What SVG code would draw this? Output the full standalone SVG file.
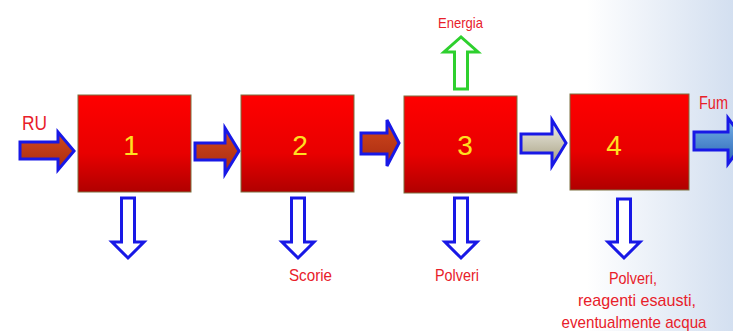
<svg xmlns="http://www.w3.org/2000/svg" width="733" height="331" viewBox="0 0 733 331">
<defs>
<linearGradient id="bg" x1="0" y1="0" x2="1" y2="0">
<stop offset="0" stop-color="#ffffff"/>
<stop offset="0.8" stop-color="#ffffff"/>
<stop offset="1" stop-color="#d3dff0"/>
</linearGradient>
<linearGradient id="boxg" x1="0" y1="0" x2="0" y2="1">
<stop offset="0" stop-color="#ff0000"/>
<stop offset="0.6" stop-color="#e80000"/>
<stop offset="1" stop-color="#b00000"/>
</linearGradient>
<linearGradient id="redarrow" x1="0" y1="0" x2="0" y2="1">
<stop offset="0" stop-color="#d24a1e"/>
<stop offset="1" stop-color="#a82a10"/>
</linearGradient>
<linearGradient id="greyarrow" x1="0" y1="0" x2="0" y2="1">
<stop offset="0" stop-color="#f2f2ec"/>
<stop offset="1" stop-color="#a49c7c"/>
</linearGradient>
<linearGradient id="bluearrow" x1="0" y1="0" x2="0" y2="1">
<stop offset="0" stop-color="#78b4ea"/>
<stop offset="1" stop-color="#2a64b4"/>
</linearGradient>
</defs>
<style>
.box{fill:url(#boxg);stroke:#7d7040;stroke-width:1}
.num{font-family:"Liberation Sans",Arial,sans-serif;font-size:28px;fill:#ffe020;text-anchor:middle}
.lbl{font-family:"Liberation Sans",Arial,sans-serif;font-size:17px;fill:#e8202a;text-anchor:middle}
.flow{stroke:#1818e6;stroke-width:3;stroke-linejoin:miter}
.out{fill:#ffffff;stroke:#1818e6;stroke-width:3}
.up{fill:#ffffff;stroke:#2ed02e;stroke-width:3}
</style>
<rect x="0" y="0" width="733" height="331" fill="url(#bg)"/>

<g id="connectors">
<polygon class="flow" fill="url(#redarrow)" points="20,142 58,142 58,132 74,151 58,170 58,159 20,159"/>
<polygon class="flow" fill="url(#redarrow)" points="195,143 225,143 225,128 239,151 225,174 225,160 195,160"/>
<polygon class="flow" fill="url(#redarrow)" points="361,133 387,133 387,120 399,143 387,166 387,154 361,154"/>
<polygon class="flow" fill="url(#greyarrow)" points="521,134 552,134 552,120 566,143 552,166 552,153 521,153"/>
<polygon class="flow" fill="url(#bluearrow)" points="694,132 728,132 728,118 745,141 728,164 728,150 694,150"/>
<polygon class="out" points="121.5,198 134.5,198 134.5,242 144,242 128,258 112,242 121.5,242"/>
<polygon class="out" points="291.5,198 304.5,198 304.5,242 314,242 298,258 282,242 291.5,242"/>
<polygon class="out" points="454.5,198 467.5,198 467.5,242 477,242 461,258 445,242 454.5,242"/>
<polygon class="out" points="617.5,199 630.5,199 630.5,242 640,242 624,258 608,242 617.5,242"/>
<polygon class="up" points="454.5,89 467.5,89 467.5,52 478,52 461,37 444,52 454.5,52"/>
</g>

<g id="node1"><rect class="box" x="78" y="95" width="113" height="97"/><text class="num" x="131" y="155">1</text></g>
<g id="node2"><rect class="box" x="241" y="95" width="113" height="97"/><text class="num" x="300" y="155">2</text></g>
<g id="node3"><rect class="box" x="404" y="96" width="113" height="97"/><text class="num" x="465" y="155">3</text></g>
<g id="node4"><rect class="box" x="570" y="94" width="119" height="96"/><text class="num" x="614" y="155">4</text></g>

<g id="labels">
<text class="lbl" x="34.5" y="130" style="font-size:20px" textLength="25" lengthAdjust="spacingAndGlyphs">RU</text>
<text class="lbl" x="699" y="109" style="font-size:18px;text-anchor:start" textLength="29" lengthAdjust="spacingAndGlyphs">Fum</text>
<text class="lbl" x="460.5" y="28" style="font-size:15px" textLength="45" lengthAdjust="spacingAndGlyphs">Energia</text>
<text class="lbl" x="310.5" y="281" textLength="43" lengthAdjust="spacingAndGlyphs">Scorie</text>
<text class="lbl" x="457" y="281" textLength="44" lengthAdjust="spacingAndGlyphs">Polveri</text>
<text class="lbl" x="633" y="284" textLength="48" lengthAdjust="spacingAndGlyphs">Polveri,</text>
<text class="lbl" x="637" y="306" textLength="118" lengthAdjust="spacingAndGlyphs">reagenti esausti,</text>
<text class="lbl" x="634" y="328" textLength="145" lengthAdjust="spacingAndGlyphs">eventualmente acqua</text>
</g>
</svg>
